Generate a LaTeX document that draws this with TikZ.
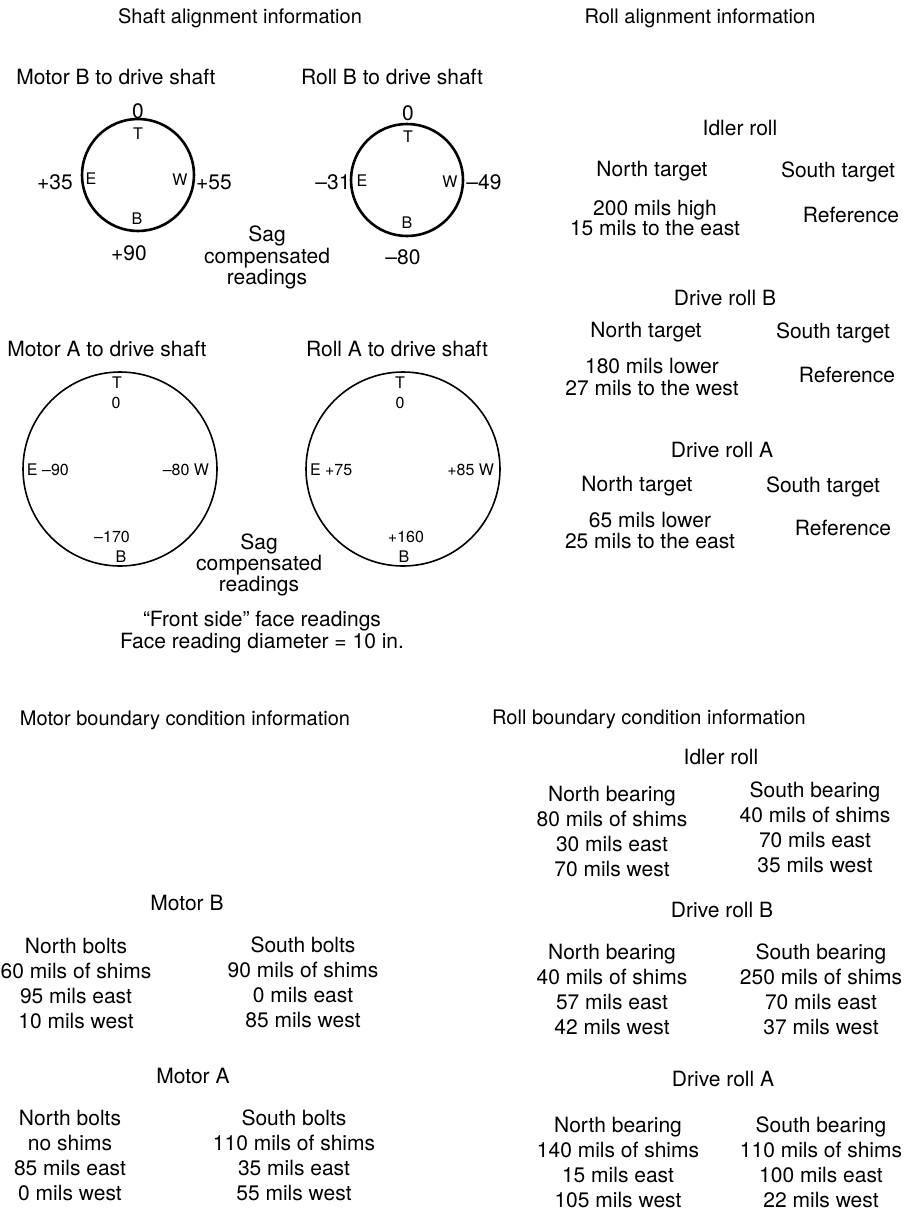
\documentclass[tikz,border=0pt]{standalone}
\usepackage{fontspec}
\setmainfont{TeX Gyre Heros}
\begin{document}
\begin{tikzpicture}[x=1pt,y=-1pt,
  txt/.style={inner sep=0pt,outer sep=0pt,align=center,font=\fontsize{21}{25}\selectfont},
  hdr/.style={inner sep=0pt,outer sep=0pt,align=center,font=\fontsize{20}{24}\selectfont},
  sml/.style={inner sep=0pt,outer sep=0pt,align=center,font=\fontsize{16}{20}\selectfont},
  two/.style={txt,font=\fontsize{21}{21}\selectfont},
  ringthick/.style={circle,draw,line width=2.6pt,inner sep=0pt,outer sep=0pt,minimum size=112pt},
  ringthin/.style={circle,draw,line width=1.6pt,inner sep=0pt,outer sep=0pt,minimum size=194pt}]
\useasboundingbox (0,0) rectangle (905,1210);

% headers
\node[hdr] (h1) at (240,18) {Shaft alignment information};
\node[hdr] (h2) at (700,18) {Roll alignment information};
\node[hdr] (h3) at (185,720) {Motor boundary condition information};
\node[hdr] (h4) at (649,719) {Roll boundary condition information};

% Motor B circle
\node[txt] (tMB) at (116,77) {Motor B to drive shaft};
\node[ringthick] (c1) at (138,175) {};
\node[txt] (c1top) at (138,111) {0};
\node[sml] (c1T) at (138,134) {T};
\node[sml] (c1E) at (91,179) {E};
\node[sml] (c1W) at (180,180) {W};
\node[sml] (c1B) at (137,219) {B};
\node[txt] (c1l) at (55,182) {+35};
\node[txt] (c1r) at (214,182) {+55};
\node[txt] (c1b) at (129,253) {+90};

% Roll B circle
\node[txt] (tRB) at (392,77) {Roll B to drive shaft};
\node[ringthick] (c2) at (407,180) {};
\node[txt] (c2top) at (408,113) {0};
\node[sml] (c2T) at (408,137) {T};
\node[sml] (c2E) at (362,181) {E};
\node[sml] (c2W) at (450,182) {W};
\node[sml] (c2B) at (407,223) {B};
\node[txt] (c2l) at (333,182) {–31};
\node[txt] (c2r) at (484,182) {–49};
\node[txt] (c2b) at (403,257) {–80};

\node[txt,font=\fontsize{21}{21.5}\selectfont] (sag1) at (267,257.5) {Sag\\compensated\\readings};

% Motor A circle
\node[txt] (tMA) at (107,349) {Motor A to drive shaft};
\node[ringthin] (c3) at (120,469) {};
\node[sml] (c3T) at (117,383) {T};
\node[sml] (c3z) at (116,403) {0};
\node[sml,anchor=west] (c3E) at (27,470) {E –90};
\node[sml,anchor=east] (c3W) at (209,470) {–80 W};
\node[sml] (c3b) at (112,537) {–170};
\node[sml] (c3B) at (121,557) {B};

% Roll A circle
\node[txt] (tRA) at (397,349) {Roll A to drive shaft};
\node[ringthin] (c4) at (403,469) {};
\node[sml] (c4T) at (400,383) {T};
\node[sml] (c4z) at (400,403) {0};
\node[sml,anchor=west] (c4E) at (310,470) {E +75};
\node[sml,anchor=east] (c4W) at (494,470) {+85 W};
\node[sml] (c4b) at (406,537) {+160};
\node[sml] (c4B) at (404,557) {B};

\node[txt,font=\fontsize{21}{21}\selectfont] (sag2) at (259,565) {Sag\\compensated\\readings};

\node[txt,font=\fontsize{21}{22.5}\selectfont] (front) at (262,632) {“Front side” face readings\\Face reading diameter = 10 in.};

% Roll alignment information
\node[txt] (ir1) at (740,128) {Idler roll};
\node[txt] (ir1n) at (652,171) {North target};
\node[txt] (ir1s) at (838,172) {South target};
\node[two,font=\fontsize{21}{20}\selectfont] (ir1v) at (655,218) {200 mils high\\15 mils to the east};
\node[txt] (ir1r) at (851,215) {Reference};

\node[txt] (drB1) at (725,298) {Drive roll B};
\node[txt] (drB1n) at (646,332) {North target};
\node[txt] (drB1s) at (833,333) {South target};
\node[two,font=\fontsize{21}{21.5}\selectfont] (drB1v) at (652,377) {180 mils lower\\27 mils to the west};
\node[txt] (drB1r) at (847,375) {Reference};

\node[txt] (drA1) at (722,450) {Drive roll A};
\node[txt] (drA1n) at (637,486) {North target};
\node[txt] (drA1s) at (823,487) {South target};
\node[two] (drA1v) at (650,530) {65 mils lower\\25 mils to the east};
\node[txt] (drA1r) at (843,528) {Reference};

% Motor boundary condition information
\node[txt] (mB) at (187,903) {Motor B};
\node[txt] (mBn) at (76,983.5) {North bolts\\60 mils of shims\\95 mils east\\10 mils west};
\node[txt] (mBs) at (303,982) {South bolts\\90 mils of shims\\0 mils east\\85 mils west};
\node[txt] (mA) at (193,1076) {Motor A};
\node[txt] (mAn) at (70,1155.5) {North bolts\\no shims\\85 mils east\\0 mils west};
\node[txt] (mAs) at (294,1155.5) {South bolts\\110 mils of shims\\35 mils east\\55 mils west};

% Roll boundary condition information
\node[txt] (ir2) at (721,757) {Idler roll};
\node[txt] (ir2n) at (612,831.5) {North bearing\\80 mils of shims\\30 mils east\\70 mils west};
\node[txt] (ir2s) at (815,827) {South bearing\\40 mils of shims\\70 mils east\\35 mils west};
\node[txt] (drB2) at (722,910) {Drive roll B};
\node[txt] (drB2n) at (612,989.5) {North bearing\\40 mils of shims\\57 mils east\\42 mils west};
\node[txt] (drB2s) at (821,989.5) {South bearing\\250 mils of shims\\70 mils east\\37 mils west};
\node[txt] (drA2) at (723,1079) {Drive roll A};
\node[txt] (drA2n) at (618,1162) {North bearing\\140 mils of shims\\15 mils east\\105 mils west};
\node[txt] (drA2s) at (821,1162) {South bearing\\110 mils of shims\\100 mils east\\22 mils west};
\end{tikzpicture}
\end{document}
